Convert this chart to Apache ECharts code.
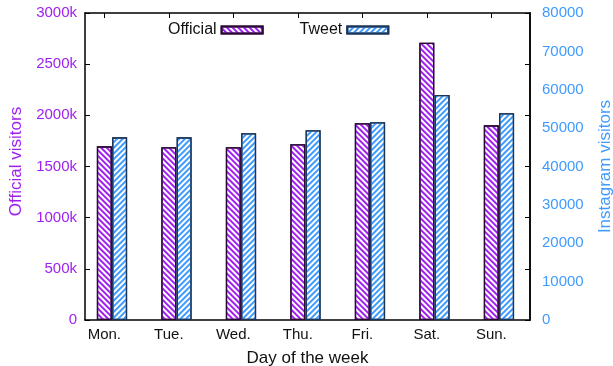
<!DOCTYPE html>
<html>
<head>
<meta charset="utf-8">
<script src="https://cdn.jsdelivr.net/npm/echarts@6/dist/echarts.min.js"></script>
<style>
  html, body { margin: 0; padding: 0; background: #fff; }
  #chart { width: 613px; height: 366px; }
</style>
</head>
<body>
<div id="chart"></div>
<script>
// Weekly visitor counts per day
const days = ['Mon.', 'Tue.', 'Wed.', 'Thu.', 'Fri.', 'Sat.', 'Sun.'];
const officialVisitors = [1697000, 1688000, 1688000, 1717000, 1922000, 2710000, 1902000];
const tweetVisitors = [47600, 47600, 48650, 49430, 51520, 58630, 53860];

const FONT = 'Liberation Sans, Arial, sans-serif';
const PURPLE = '#a020f0';
const BLUE = '#3f9bff';
const X_MIN = -0.3, X_MAX = 6.6;
const TWEET_SHIFT = 0.237;   // second bar sits right next to the first one
const dayIdx = days.map((d, i) => i);

const chart = echarts.init(document.getElementById('chart'), null, { renderer: 'canvas' });

const stripes = (color, rot) => ({
  symbol: 'rect',
  symbolSize: 1,
  dashArrayX: [1, 0],
  dashArrayY: [1.4, 1.6],
  rotation: rot,
  color: color
});

const frameLine = { show: true, onZero: false, lineStyle: { color: '#000', width: 1.5 } };
const innerTick = { show: true, inside: true, length: 5, lineStyle: { color: '#000' } };

chart.setOption({
  animation: false,
  backgroundColor: '#fff',
  textStyle: { fontFamily: FONT },
  grid: { left: 85, right: 83, top: 13, bottom: 46, containLabel: false, outerBoundsMode: 'none' },
  legend: {
    data: ['Official', 'Tweet'],
    left: 163, top: 17,
    align: 'right',
    icon: 'rect',
    itemWidth: 41, itemHeight: 7,
    itemGap: 36,
    textStyle: { fontFamily: FONT, fontSize: 16, color: '#111' }
  },
  xAxis: [
    {
      type: 'value', min: X_MIN, max: X_MAX, position: 'bottom',
      splitLine: { show: false },
      axisLine: frameLine,
      axisTick: Object.assign({ customValues: dayIdx }, innerTick),
      axisLabel: {
        customValues: dayIdx, margin: 7,
        formatter: v => days[Math.round(v)] || '',
        fontFamily: FONT, fontSize: 15, color: '#111'
      },
      name: 'Day of the week', nameLocation: 'middle', nameGap: 30,
      nameTextStyle: { fontFamily: FONT, fontSize: 17, color: '#111' }
    },
    {
      type: 'value', min: X_MIN, max: X_MAX, position: 'top',
      splitLine: { show: false },
      axisLine: frameLine,
      axisTick: Object.assign({ customValues: dayIdx }, innerTick),
      axisLabel: { show: false }
    },
    {
      type: 'value', min: X_MIN - TWEET_SHIFT, max: X_MAX - TWEET_SHIFT, position: 'bottom',
      show: false
    }
  ],
  yAxis: [
    {
      type: 'value', min: 0, max: 3000000, interval: 500000, position: 'left',
      splitLine: { show: false },
      axisLine: frameLine,
      axisTick: innerTick,
      axisLabel: {
        margin: 8, fontFamily: FONT, fontSize: 15, color: PURPLE,
        formatter: v => v === 0 ? '0' : (v / 1000) + 'k'
      },
      name: 'Official visitors', nameLocation: 'middle', nameGap: 60, nameRotate: 90,
      nameTextStyle: { fontFamily: FONT, fontSize: 17, color: PURPLE, padding: [0, 0, 0, 10] }
    },
    {
      type: 'value', min: 0, max: 80000, interval: 10000, position: 'right',
      splitLine: { show: false },
      axisLine: frameLine,
      axisTick: { show: false },
      axisLabel: {
        margin: 12, fontFamily: FONT, fontSize: 15, color: BLUE,
        formatter: v => String(v)
      },
      name: 'Instagram visitors', nameLocation: 'middle', nameGap: 67, nameRotate: 90,
      nameTextStyle: { fontFamily: FONT, fontSize: 17, color: BLUE, padding: [0, 0, 0, 0] }
    },
    {
      type: 'value', min: 0, max: 3000000, interval: 500000, position: 'right',
      splitLine: { show: false },
      axisLine: frameLine,
      axisTick: innerTick,
      axisLabel: { show: false }
    }
  ],
  series: [
    {
      name: 'Official', type: 'bar', xAxisIndex: 0, yAxisIndex: 0,
      barWidth: 15,
      data: officialVisitors.map((v, i) => [dayIdx[i], v]),
      itemStyle: {
        color: '#fff', borderColor: '#2a0a33', borderWidth: 1.3,
        decal: stripes(PURPLE, Math.PI / 4)
      }
    },
    {
      name: 'Tweet', type: 'bar', xAxisIndex: 2, yAxisIndex: 1,
      barWidth: 15,
      data: tweetVisitors.map((v, i) => [dayIdx[i], v]),
      itemStyle: {
        color: '#fff', borderColor: '#1b3559', borderWidth: 1.3,
        decal: stripes(BLUE, -Math.PI / 4)
      }
    }
  ]
});
</script>
</body>
</html>
